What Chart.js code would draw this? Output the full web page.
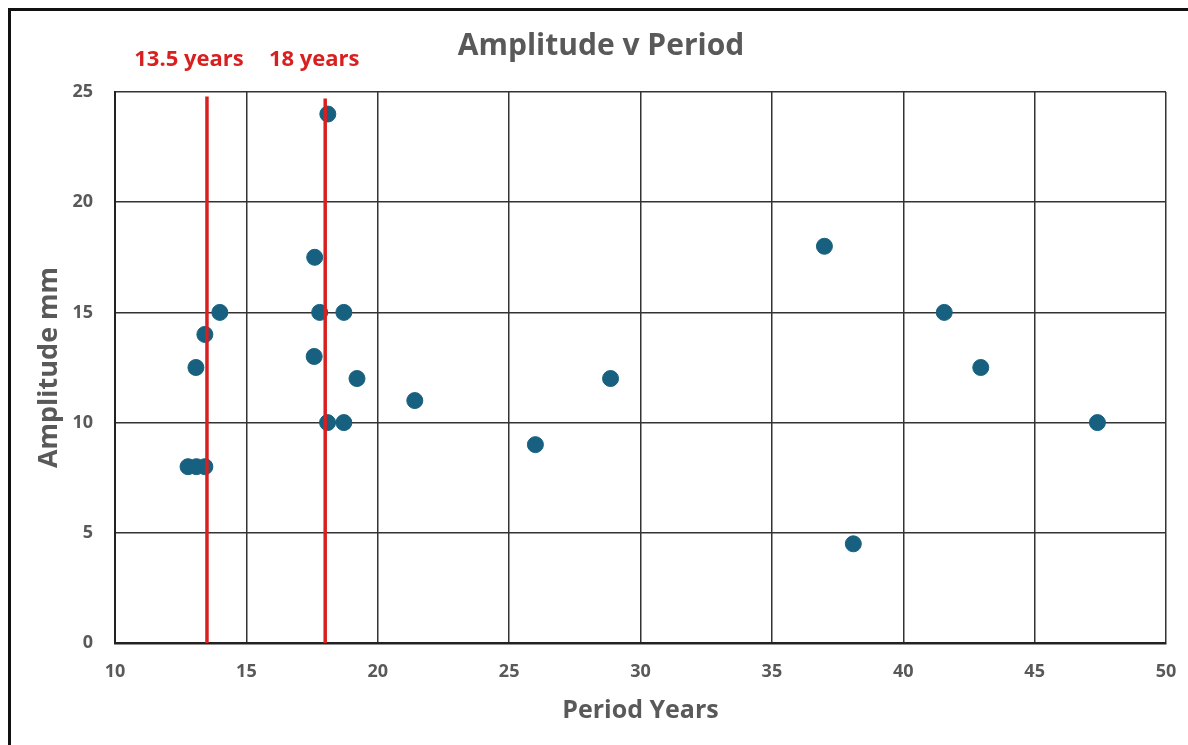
<!DOCTYPE html>
<html>
<head>
<meta charset="utf-8">
<script src="https://cdn.jsdelivr.net/npm/chart.js@4/dist/chart.umd.min.js"></script>
<style>
  html, body { margin: 0; padding: 0; background: #fff; }
  #wrap { position: relative; width: 1188px; height: 745px; }
  #frame { position: absolute; left: 8px; top: 8px; width: 1178px; height: 734px;
           border-left: 3px solid #111; border-top: 3px solid #111;
           border-right: 1px solid #ddd; border-bottom: 1px solid #ddd; pointer-events: none; }
  canvas { position: absolute; left: 0; top: 0; }
</style>
</head>
<body>
<div id="wrap">
  <canvas id="c" width="1188" height="745"></canvas>
  <div id="frame"></div>
</div>
<script>
// Data
const periods    = [12.78, 13.1, 13.42, 13.08, 13.42, 13.99, 17.6, 17.79, 18.71, 17.58, 19.21, 18.09, 18.71, 18.1, 21.41, 26.0, 28.86, 37.0, 38.1, 41.56, 42.95, 47.39];
const amplitudes = [8,     8,    8,     12.5,  14,    15,    17.5, 15,    15,    13,    12,    10,    10,    24,   11,    9,    12,    18,   4.5,  15,    12.5,  10];
const refLines   = [13.5, 18];
const refLabels  = ['13.5 years', '18 years'];
const refTops    = [24.8, 24.7];
const xTicks     = [10, 15, 20, 25, 30, 35, 40, 45, 50];
const yTicks     = [0, 5, 10, 15, 20, 25];
const chartTitle = 'Amplitude v Period';
const xTitle     = 'Period Years';
const yTitle     = 'Amplitude mm';

const FONT = '"Open Sans", Roboto, sans-serif';
const GREY = '#595959';
const RED  = '#d92020';
const DOT  = '#17607f';

const points = periods.map((p, i) => ({ x: p, y: amplitudes[i] }));
const lineSets = refLines.map((v, i) => ({
  type: 'line',
  label: refLabels[i],
  data: [{ x: v, y: 0 }, { x: v, y: refTops[i] }],
  borderColor: RED,
  borderWidth: 3.5,
  pointRadius: 0,
  fill: false,
  order: 0
}));

const overlay = {
  id: 'overlay',
  afterDraw(chart) {
    const ctx = chart.ctx;
    const xs = chart.scales.x;
    ctx.save();
    ctx.fillStyle = GREY;
    ctx.font = 'bold 30px ' + FONT;
    ctx.textAlign = 'center';
    ctx.textBaseline = 'middle';
    ctx.fillText(chartTitle, 601, 46);
    ctx.fillStyle = RED;
    ctx.font = 'bold 22px ' + FONT;
    const offs = [-18, -11];
    refLines.forEach((v, i) => {
      ctx.fillText(refLabels[i], xs.getPixelForValue(v) + offs[i], 60);
    });
    ctx.restore();
  }
};

new Chart(document.getElementById('c'), {
  type: 'scatter',
  data: {
    datasets: [
      ...lineSets,
      {
        label: 'Amplitude',
        data: points,
        backgroundColor: DOT,
        borderColor: DOT,
        pointRadius: 8,
        pointHoverRadius: 8,
        order: 1
      }
    ]
  },
  options: {
    responsive: false,
    animation: false,
    layout: { padding: { top: 92, right: 22, left: 0, bottom: 0 } },
    plugins: { legend: { display: false }, tooltip: { enabled: false }, title: { display: false } },
    scales: {
      x: {
        type: 'linear', min: 10, max: 50,
        afterBuildTicks(s) { s.ticks = xTicks.map(v => ({ value: v })); },
        afterFit(s) { s.height = 102; s.paddingLeft = 0; s.paddingRight = 0; },
        grid: { color: '#333', lineWidth: 1.5, drawTicks: false },
        border: { color: '#222', width: 2.5 },
        ticks: { padding: 18, color: GREY, font: { family: FONT, size: 18, weight: 'bold' }, maxRotation: 0 },
        title: { display: true, text: xTitle, color: GREY, font: { family: FONT, size: 25, weight: 'bold' }, padding: { top: 0, bottom: 19 } }
      },
      y: {
        type: 'linear', min: 0, max: 25,
        afterBuildTicks(s) { s.ticks = yTicks.map(v => ({ value: v })); },
        afterFit(s) { s.width = 115; s.paddingTop = 0; s.paddingBottom = 0; },
        grid: { color: '#333', lineWidth: 1.5, drawTicks: false },
        border: { color: '#222', width: 2 },
        ticks: { padding: 22, color: GREY, font: { family: FONT, size: 18, weight: 'bold' } },
        title: { display: true, text: yTitle, color: GREY, font: { family: FONT, size: 27, weight: 'bold' }, padding: { top: 33, bottom: 0 } }
      }
    }
  },
  plugins: [overlay]
});
</script>
</body>
</html>
